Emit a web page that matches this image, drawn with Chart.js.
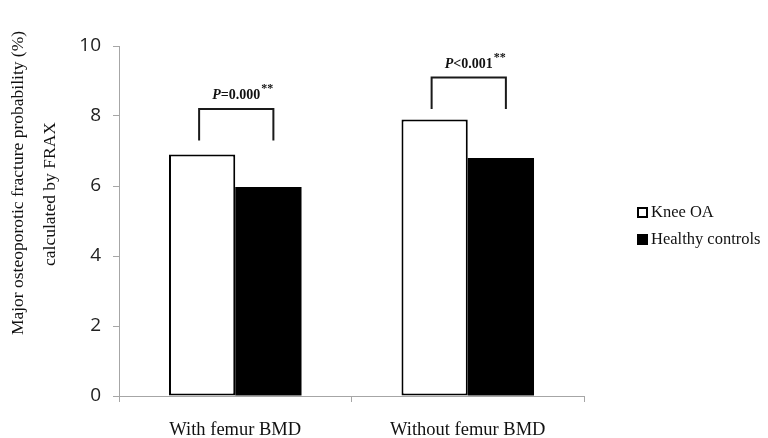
<!DOCTYPE html>
<html>
<head>
<meta charset="utf-8">
<script src="https://cdn.jsdelivr.net/npm/chart.js@4.4.1/dist/chart.umd.min.js"></script>
<style>
  html, body { margin: 0; padding: 0; background: #fff; }
  #wrap { width: 768px; height: 438px; }
</style>
</head>
<body>
<div id="wrap"><canvas id="c" width="768" height="438"></canvas></div>
<script>
const categories = ['With femur BMD', 'Without femur BMD'];
const kneeOA = [6.9, 7.9];
const healthy = [5.97, 6.8];
const yTicks = [0, 2, 4, 6, 8, 10];
// significance brackets: top and leg-end values per category
const bracketTop = [8.2, 9.1];
const bracketBottom = [7.3, 8.2];
const pLabels = [['P', '=0.000'], ['P', '<0.001']];
const seriesNames = ['Knee OA', 'Healthy controls'];

const serif = '"Liberation Serif", "Times New Roman", serif';

// brackets with P values above each pair of bars
const bracketPlugin = {
    id: 'brackets',
    afterDatasetsDraw(chart) {
        const ctx = chart.ctx, y = chart.scales.y;
        const m0 = chart.getDatasetMeta(0), m1 = chart.getDatasetMeta(1);
        categories.forEach((_, i) => {
            const x0 = m0.data[i].x - 3, x1 = m1.data[i].x + 5;
            const yt = y.getPixelForValue(bracketTop[i]);
            const yb = y.getPixelForValue(bracketBottom[i]);
            ctx.save();
            ctx.strokeStyle = '#1a1a1a';
            ctx.lineWidth = 2;
            ctx.beginPath();
            ctx.moveTo(x0, yb); ctx.lineTo(x0, yt); ctx.lineTo(x1, yt); ctx.lineTo(x1, yb);
            ctx.stroke();

            const [p, rest] = pLabels[i];
            ctx.fillStyle = '#111';
            ctx.textBaseline = 'alphabetic';
            ctx.font = 'italic bold 14px ' + serif;
            const wp = ctx.measureText(p).width;
            ctx.font = 'bold 14px ' + serif;
            const wr = ctx.measureText(rest).width;
            let tx = (x0 + x1) / 2 - (wp + wr) / 2;
            const ty = yt - 10;
            ctx.font = 'italic bold 14px ' + serif;
            ctx.fillText(p, tx, ty);
            ctx.font = 'bold 14px ' + serif;
            ctx.fillText(rest, tx + wp, ty);
            ctx.font = 'bold 12px ' + serif;
            ctx.fillText('**', tx + wp + wr + 1, ty - 7);
            ctx.restore();
        });
    }
};

// legend on the right and two-line y title
const sidePlugin = {
    id: 'side',
    afterDraw(chart) {
        const ctx = chart.ctx;
        ctx.save();
        const fills = ['#ffffff', '#000000'];
        const rows = [213, 240];
        seriesNames.forEach((name, i) => {
            ctx.fillStyle = fills[i];
            ctx.strokeStyle = '#000';
            ctx.lineWidth = 2;
            ctx.fillRect(638, rows[i] - 5, 9, 9);
            ctx.strokeRect(638, rows[i] - 5, 9, 9);
            ctx.fillStyle = '#111';
            ctx.font = '16.5px ' + serif;
            ctx.textBaseline = 'middle';
            ctx.fillText(name, 651, rows[i]);
        });

        ctx.font = '17.5px ' + serif;
        ctx.fillStyle = '#111';
        ctx.textAlign = 'center';
        ctx.textBaseline = 'middle';
        ctx.save();
        ctx.translate(18, 183);
        ctx.rotate(-Math.PI / 2);
        ctx.fillText('Major osteoporotic fracture probability (%)', 0, 0);
        ctx.restore();
        ctx.save();
        ctx.translate(50, 194);
        ctx.rotate(-Math.PI / 2);
        ctx.fillText('calculated by FRAX', 0, 0);
        ctx.restore();
        ctx.restore();
    }
};

new Chart(document.getElementById('c'), {
    type: 'bar',
    data: {
        labels: categories,
        datasets: [
            { label: seriesNames[0], data: kneeOA, backgroundColor: '#ffffff', borderColor: '#000000',
              borderWidth: 2, borderSkipped: false },
            { label: seriesNames[1], data: healthy, backgroundColor: '#000000', borderColor: '#000000',
              borderWidth: 0 }
        ]
    },
    options: {
        responsive: false,
        animation: false,
        layout: { padding: { left: 0, right: 184, top: 46, bottom: 0 } },
        datasets: { bar: { categoryPercentage: 0.57, barPercentage: 1.0 } },
        plugins: { legend: { display: false }, tooltip: { enabled: false } },
        scales: {
            x: {
                grid: { offset: true, drawOnChartArea: false, color: '#a6a6a6', tickLength: 6 },
                border: { color: '#a6a6a6', width: 1 },
                ticks: { color: '#111', font: { family: serif, size: 18.5 }, padding: 17 },
                afterFit(s) { s.height = 42; }
            },
            y: {
                min: 0, max: 10,
                afterBuildTicks(s) { s.ticks = yTicks.map(v => ({ value: v })); },
                grid: { drawOnChartArea: false, color: '#a6a6a6', tickLength: 6 },
                border: { color: '#a6a6a6', width: 1 },
                ticks: { color: '#222', font: { family: '"Open Sans", "Noto Sans", sans-serif', size: 19 }, padding: 12 },
                afterFit(s) { s.width = 119; }
            }
        }
    },
    plugins: [bracketPlugin, sidePlugin]
});
</script>
</body>
</html>
